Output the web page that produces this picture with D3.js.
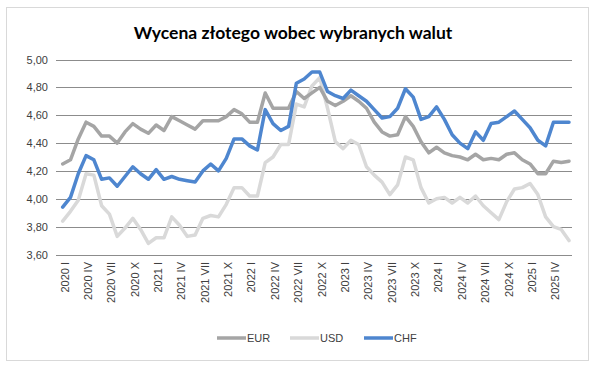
<!DOCTYPE html>
<html><head><meta charset="utf-8">
<script src="https://cdn.jsdelivr.net/npm/d3@7"></script>
<style>body{margin:0;background:#fff}svg{display:block}</style>
</head><body>
<script>
const title = "Wycena złotego wobec wybranych walut";
const romans = ["I","II","III","IV","V","VI","VII","VIII","IX","X","XI","XII"];
const years = [2020,2021,2022,2023,2024,2025];
const seriesNames = ["EUR","USD","CHF"];
const yTicks = [3.6,3.8,4.0,4.2,4.4,4.6,4.8,5.0];
const eur = [4.25,4.28,4.43,4.55,4.52,4.45,4.45,4.40,4.48,4.54,4.50,4.47,
  4.53,4.49,4.59,4.56,4.53,4.50,4.56,4.56,4.56,4.59,4.64,4.61,
  4.55,4.55,4.76,4.65,4.65,4.65,4.77,4.72,4.76,4.80,4.70,4.67,
  4.70,4.74,4.70,4.65,4.55,4.48,4.45,4.46,4.59,4.52,4.41,4.33,
  4.37,4.33,4.31,4.30,4.28,4.32,4.28,4.29,4.28,4.32,4.33,4.28,
  4.25,4.18,4.18,4.27,4.26,4.27];
const usd = [3.84,3.91,3.99,4.18,4.17,3.95,3.89,3.73,3.79,3.86,3.78,3.68,
  3.72,3.72,3.87,3.81,3.73,3.74,3.86,3.88,3.87,3.96,4.08,4.08,
  4.02,4.02,4.26,4.30,4.39,4.39,4.68,4.66,4.81,4.87,4.65,4.41,
  4.36,4.42,4.39,4.23,4.17,4.12,4.03,4.10,4.30,4.28,4.08,3.97,
  4.00,4.01,3.97,4.01,3.97,4.02,3.95,3.90,3.85,3.98,4.07,4.08,
  4.11,4.03,3.87,3.80,3.78,3.70];
const chf = [3.94,4.01,4.18,4.31,4.28,4.14,4.15,4.09,4.16,4.23,4.18,4.14,
  4.21,4.14,4.16,4.14,4.13,4.12,4.20,4.25,4.20,4.29,4.43,4.43,
  4.38,4.35,4.64,4.54,4.49,4.52,4.83,4.86,4.91,4.91,4.77,4.74,
  4.72,4.78,4.74,4.70,4.64,4.58,4.59,4.65,4.79,4.73,4.57,4.59,
  4.66,4.57,4.46,4.40,4.36,4.48,4.42,4.54,4.55,4.59,4.63,4.57,
  4.51,4.42,4.38,4.55,4.55,4.55];

const categories = [];
years.forEach(y => romans.forEach(r => categories.push(y + " " + r)));
categories.length = eur.length;

const W = 595, H = 367;
const svg = d3.select("body").append("svg").attr("width", W).attr("height", H);
svg.append("rect").attr("x",6.5).attr("y",7.5).attr("width",582).attr("height",353)
  .attr("fill","#fff").attr("stroke","#d9d9d9");

const x = d3.scaleBand().domain(categories).range([58.8, 572.9]);
const y = d3.scaleLinear().domain([3.6, 5.0]).range([254.5, 59.5]);
const font = "'Liberation Sans', Arial, sans-serif";

svg.append("text").attr("x", 293).attr("y", 39).attr("text-anchor","middle")
  .attr("font-family","Lato, 'Open Sans', sans-serif").attr("font-weight","bold")
  .attr("font-size", 17.5).attr("fill","#000").text(title);

// grid
svg.append("g").selectAll("line").data(yTicks).join("line")
  .attr("x1", 56).attr("x2", 572).attr("y1", d => Math.round(y(d))+0.5).attr("y2", d => Math.round(y(d))+0.5)
  .attr("stroke","#8c8c8c").attr("stroke-width",1);

const fmt = d => d3.format(".2f")(d).replace(".", ",");
const yAxis = d3.axisLeft(y).tickValues(yTicks).tickFormat(fmt).tickSize(0).tickPadding(0);
const gy = svg.append("g").attr("transform","translate(48,0)").call(yAxis);
gy.select(".domain").remove();
gy.selectAll("text").attr("font-family", font).attr("font-size", 11).attr("fill","#404040");

const xAxis = d3.axisBottom(x).tickValues(categories.filter((d,i)=> i%3===0)).tickSize(0).tickPadding(0);
const gx = svg.append("g").attr("transform","translate(0,262)").call(xAxis);
gx.select(".domain").remove();
gx.selectAll("text").attr("font-family", font).attr("font-size", 11).attr("fill","#404040")
  .attr("transform","rotate(-90)").attr("text-anchor","end").attr("dy","0.35em").attr("dx","0").attr("x",0).attr("y",2);

const data = [eur, usd, chf];
const colors = ["#a5a5a5", "#d9d9d9", "#4e86cf"];
const line = d3.line().x((d,i) => x(categories[i]) + x.bandwidth()/2).y(d => y(d));
[1,0,2].forEach(k => {
  svg.append("path").attr("d", line(data[k])).attr("fill","none")
    .attr("stroke", colors[k]).attr("stroke-width", 3.5).attr("stroke-linejoin","round").attr("stroke-linecap","round");
});

const legX = [217, 290, 364];
seriesNames.forEach((n,k) => {
  svg.append("line").attr("x1", legX[k]).attr("x2", legX[k]+29).attr("y1", 338).attr("y2", 338)
    .attr("stroke", colors[k]).attr("stroke-width", 3.5);
  svg.append("text").attr("x", legX[k]+30).attr("y", 342).attr("font-family", font).attr("font-size", 11)
    .attr("fill","#404040").text(n);
});
</script>
</body></html>
